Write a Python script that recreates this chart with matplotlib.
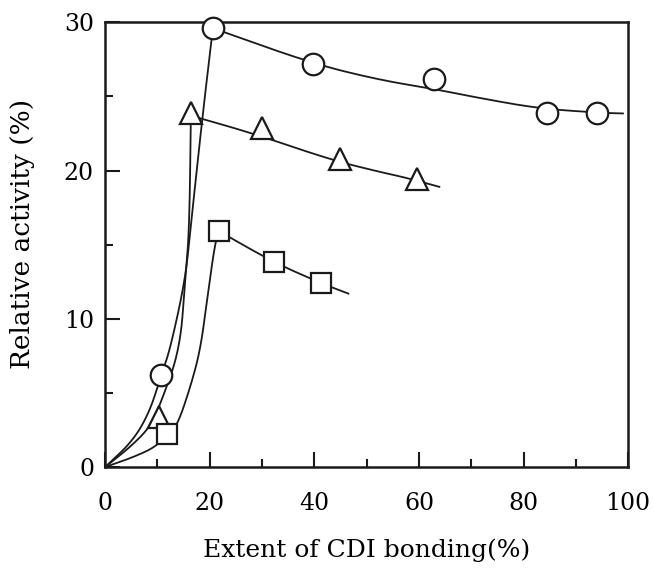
import numpy as np
import matplotlib
matplotlib.use('Agg')
import matplotlib.pyplot as plt

plt.rcParams['font.family'] = 'DejaVu Serif'

# Measured points (extent of CDI bonding %, relative activity %)
circle_x = [10.7, 20.6, 39.8, 62.9, 84.5, 94.1]
circle_y = [6.2, 29.6, 27.2, 26.2, 23.9, 23.9]
tri_x = [10.3, 16.4, 30.0, 44.9, 59.7]
tri_y = [3.4, 23.9, 22.9, 20.8, 19.4]
sq_x = [11.9, 21.8, 32.3, 41.3]
sq_y = [2.2, 15.9, 13.8, 12.4]

# Hand-drawn guide curves
circle_rise_x = [0, 5.4, 8.6, 10.7, 12.4, 15.3, 16.3, 18.5, 20.6]
circle_rise_y = [0, 1.8, 3.8, 6.2, 7.9, 12.6, 16.0, 23.3, 29.6]
circle_fall_x = [20.6, 39.8, 52.6, 62.9, 71.4, 82.6, 94.1, 99.0]
circle_fall_y = [29.6, 27.2, 26.1, 25.5, 24.9, 24.2, 23.9, 23.85]
tri_rise_x = [0, 4.8, 8.6, 10.5, 14.3, 15.3, 16.1, 16.4]
tri_rise_y = [0, 1.35, 2.7, 4.2, 7.9, 12.6, 16.0, 23.9]
tri_fall_x = [16.4, 28.3, 43.4, 52.6, 57.7, 63.9]
tri_fall_y = [23.7, 22.5, 20.7, 19.9, 19.5, 18.9]
sq_rise_x = [0, 5.4, 9.6, 11.9, 13.8, 16.3, 18.2, 19.5, 21.0, 21.8]
sq_rise_y = [0, 0.67, 1.35, 2.2, 2.8, 5.4, 7.9, 11.3, 15.1, 15.9]
sq_fall_x = [21.8, 32.3, 41.3, 46.5]
sq_fall_y = [15.9, 13.8, 12.4, 11.7]


def smooth(xs, ys, iters=4):
    # Chaikin corner cutting, end points kept
    p = np.column_stack([xs, ys]).astype(float)
    for _ in range(iters):
        q = 0.75 * p[:-1] + 0.25 * p[1:]
        r = 0.25 * p[:-1] + 0.75 * p[1:]
        mid = np.empty((2 * len(q), 2))
        mid[0::2] = q
        mid[1::2] = r
        p = np.vstack([p[0], mid, p[-1]])
    return p[:, 0], p[:, 1]


fig = plt.figure(figsize=(6.53, 5.71), dpi=100)
ax = fig.add_axes([0.161, 0.182, 0.801, 0.779])

lw = 1.3
for cx, cy in [(circle_rise_x, circle_rise_y), (circle_fall_x, circle_fall_y),
               (tri_rise_x, tri_rise_y), (tri_fall_x, tri_fall_y),
               (sq_rise_x, sq_rise_y), (sq_fall_x, sq_fall_y)]:
    sx, sy = smooth(cx, cy)
    ax.plot(sx, sy, color='#1a1a1a', lw=lw, zorder=2, clip_on=False)

mk = dict(linestyle='none', markerfacecolor='white', markeredgecolor='#1a1a1a',
          markeredgewidth=1.6, zorder=3, clip_on=False)
ax.plot(circle_x, circle_y, marker='o', markersize=15.5, **mk)
ax.plot(tri_x, tri_y, marker='^', markersize=15.5, **mk)
ax.plot(sq_x, sq_y, marker='s', markersize=15, **mk)

ax.set_xlim(0, 100)
ax.set_ylim(0, 30)
ax.set_xticks([0, 20, 40, 60, 80, 100])
ax.set_xticks([10, 30, 50, 70, 90], minor=True)
ax.set_yticks([0, 10, 20, 30])
ax.set_yticks([5, 15, 25], minor=True)
ax.tick_params(which='both', direction='in', width=1.5, labelsize=17, color='#1a1a1a')
ax.tick_params(which='major', length=11)
ax.tick_params(axis='x', which='major', pad=18)
ax.tick_params(axis='y', which='major', pad=8)
ax.tick_params(which='minor', length=6)
for s in ax.spines.values():
    s.set_linewidth(1.8)
    s.set_color('#1a1a1a')

ax.set_xlabel('Extent of CDI bonding(%)', fontsize=18, labelpad=17)
ax.set_ylabel('Relative activity (%)', fontsize=19)
ax.yaxis.set_label_coords(-0.135, 0.525)

fig.savefig('out.png', dpi=100)
